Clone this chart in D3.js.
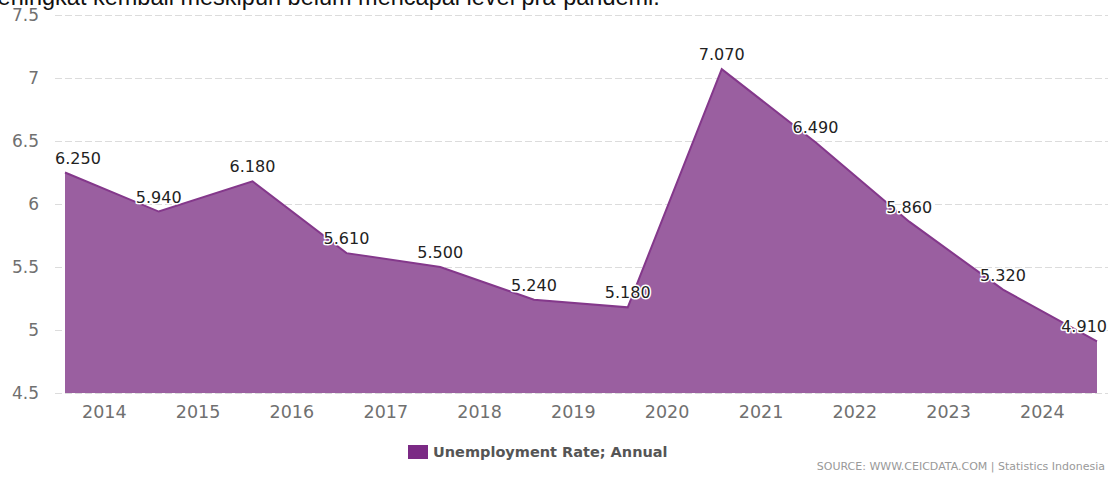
<!DOCTYPE html>
<html>
<head>
<meta charset="utf-8">
<script src="https://cdn.jsdelivr.net/npm/d3@7"></script>
<style>
  body { margin: 0; background: #fff; }
  svg { display: block; }
</style>
</head>
<body>
<script>
// data (Sakernas, August of each year)
var years = [2013, 2014, 2015, 2016, 2017, 2018, 2019, 2020, 2021, 2022, 2023, 2024];
var rates = [6.25, 5.94, 6.18, 5.61, 5.50, 5.24, 5.18, 7.07, 6.49, 5.86, 5.32, 4.91];
var yTicks = [4.5, 5, 5.5, 6, 6.5, 7, 7.5];
var xTickYears = [2014, 2015, 2016, 2017, 2018, 2019, 2020, 2021, 2022, 2023, 2024];
var seriesName = "Unemployment Rate; Annual";
var sourceText = "SOURCE: WWW.CEICDATA.COM | Statistics Indonesia";
var caption = "meningkat kembali meskipun belum mencapai level pra-pandemi.";

var svgWidth = 1108, svgHeight = 477;

var data = years.map(function(y, i) { return {date: new Date(y, 7, 1), value: rates[i]}; });

var x = d3.scaleTime()
    .domain([new Date(2013, 7, 1), new Date(2024, 7, 1)])
    .range([65, 1097]);
var y = d3.scaleLinear().domain([4.5, 7.5]).range([393, 15]);

var svg = d3.select("body").append("svg")
    .attr("width", svgWidth)
    .attr("height", svgHeight);

// cut-off caption from the article above the chart
svg.append("text")
    .attr("x", -22).attr("y", 5)
    .style("font-family", "Liberation Sans, Arial, sans-serif")
    .style("font-size", "23.5px")
    .style("fill", "#111")
    .text(caption);

// grid
svg.append("g")
  .selectAll("line")
  .data(yTicks)
  .enter().append("line")
    .attr("x1", 55).attr("x2", svgWidth)
    .attr("y1", function(d) { return y(d) + 0.5; })
    .attr("y2", function(d) { return y(d) + 0.5; })
    .style("stroke", "#dcdcdc")
    .style("stroke-dasharray", "7,3");

// y labels
svg.append("g")
  .selectAll("text")
  .data(yTicks)
  .enter().append("text")
    .attr("x", 39)
    .attr("y", function(d) { return y(d); })
    .attr("dy", "0.36em")
    .attr("text-anchor", "end")
    .style("font-family", "DejaVu Sans, sans-serif")
    .style("font-size", "17px")
    .style("fill", "#707070")
    .text(function(d) { return d; });

// x labels
svg.append("g")
  .selectAll("text")
  .data(xTickYears)
  .enter().append("text")
    .attr("x", function(d) { return x(new Date(d, 0, 1)); })
    .attr("y", 418)
    .attr("text-anchor", "middle")
    .style("font-family", "DejaVu Sans, sans-serif")
    .style("font-size", "17.5px")
    .style("fill", "#707070")
    .text(function(d) { return d; });

// area
var area = d3.area()
    .x(function(d) { return x(d.date); })
    .y0(y(4.5))
    .y1(function(d) { return y(d.value); });

var valueline = d3.line()
    .x(function(d) { return x(d.date); })
    .y(function(d) { return y(d.value); });

svg.append("path")
    .datum(data)
    .attr("d", area)
    .style("fill", "#9a5fa0");

svg.append("path")
    .datum(data)
    .attr("d", valueline)
    .style("fill", "none")
    .style("stroke", "#84388b")
    .style("stroke-width", 2);

// data labels
var labels = svg.append("g")
  .selectAll("text")
  .data(data)
  .enter().append("text")
    .attr("y", function(d) { return y(d.value) - 9; })
    .attr("text-anchor", "middle")
    .style("font-family", "DejaVu Sans, sans-serif")
    .style("font-size", "16px")
    .style("fill", "#222")
    .style("stroke", "#fff")
    .style("stroke-width", 3)
    .style("stroke-linejoin", "round")
    .style("paint-order", "stroke")
    .text(function(d) { return d.value.toFixed(3); });

// keep labels inside the plot area
labels.attr("x", function(d) {
  var w = this.getComputedTextLength();
  var cx = x(d.date);
  if (cx - w / 2 < 55) cx = 55 + w / 2;
  if (cx + w / 2 > svgWidth - 1) cx = svgWidth - 1 - w / 2;
  return cx;
});

// legend
svg.append("rect")
    .attr("x", 408).attr("y", 445)
    .attr("width", 20).attr("height", 14)
    .style("fill", "#7b2a85");

svg.append("text")
    .attr("x", 433).attr("y", 457)
    .style("font-family", "DejaVu Sans, sans-serif")
    .style("font-size", "14.5px")
    .style("font-weight", "bold")
    .style("fill", "#555")
    .text(seriesName);

svg.append("text")
    .attr("x", 1105).attr("y", 470)
    .attr("text-anchor", "end")
    .style("font-family", "DejaVu Sans, sans-serif")
    .style("font-size", "11px")
    .style("fill", "#999")
    .text(sourceText);
</script>
</body>
</html>
